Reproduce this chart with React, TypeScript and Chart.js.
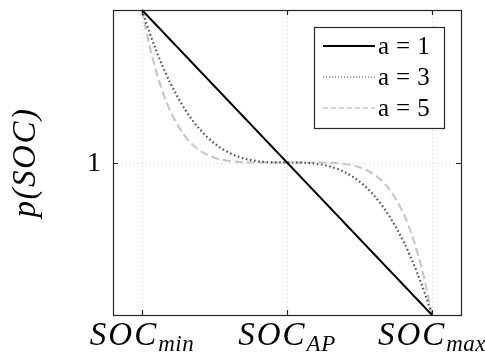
import React, { useEffect, useRef } from "react";
import { Chart, registerables } from "chart.js";

Chart.register(...registerables);

// State of charge, normalised: 0 = SOC_min, 1 = SOC_AP, 2 = SOC_max
const socPoints = [0, 0.05, 0.1, 0.15, 0.2, 0.3, 0.4, 0.5, 0.6, 0.7, 0.8, 0.9, 1, 1.1, 1.2, 1.3, 1.4, 1.5, 1.6, 1.7, 1.8, 1.85, 1.9, 1.95, 2];
const pA1 = [2, 1.95, 1.9, 1.85, 1.8, 1.7, 1.6, 1.5, 1.4, 1.3, 1.2, 1.1, 1, 0.9, 0.8, 0.7, 0.6, 0.5, 0.4, 0.3, 0.2, 0.15, 0.1, 0.05, 0];
const pA3 = [2, 1.857, 1.729, 1.614, 1.512, 1.343, 1.216, 1.125, 1.064, 1.027, 1.008, 1.001, 1, 0.999, 0.992, 0.973, 0.936, 0.875, 0.784, 0.657, 0.488, 0.386, 0.271, 0.143, 0];
const pA5 = [2, 1.774, 1.59, 1.444, 1.328, 1.168, 1.078, 1.031, 1.01, 1.002, 1.0, 1.0, 1, 1.0, 1.0, 0.998, 0.99, 0.969, 0.922, 0.832, 0.672, 0.556, 0.41, 0.226, 0];

const xTickValues = [0, 1, 2];
const xTickMain = ["SOC", "SOC", "SOC"];
const xTickSub = ["min", "AP", "max"];
const yTickValues = [1];
const yTickLabels = ["1"];
const seriesLabels = ["a=1", "a=3", "a=5"];

const SERIF = '"Liberation Serif", "Times New Roman", Times, serif';

const styles = [
  { color: "#000000", width: 2, dash: [] as number[], legendWidth: 2, legendDash: [] as number[] },
  { color: "#555555", width: 2.2, dash: [1.6, 2.6], legendWidth: 1.2, legendDash: [1.2, 1.8] },
  { color: "#c8c8c8", width: 2.2, dash: [8, 4], legendWidth: 1.6, legendDash: [5, 3] },
];

const toPoints = (ys: number[]) => socPoints.map((x, i) => ({ x, y: ys[i] }));

const setSpacing = (ctx: any, px: number) => {
  if ("letterSpacing" in ctx) ctx.letterSpacing = `${px}px`;
};

const decorPlugin = {
  id: "decor",
  beforeDatasetsDraw(chart: any) {
    const { ctx, chartArea: a, scales } = chart;
    ctx.save();
    ctx.strokeStyle = "#cfcfcf";
    ctx.lineWidth = 1;
    ctx.setLineDash([1, 3]);
    xTickValues.forEach((v) => {
      const px = Math.round(scales.x.getPixelForValue(v)) + 0.5;
      ctx.beginPath();
      ctx.moveTo(px, a.top);
      ctx.lineTo(px, a.bottom);
      ctx.stroke();
    });
    yTickValues.forEach((v) => {
      const py = Math.round(scales.y.getPixelForValue(v)) + 0.5;
      ctx.beginPath();
      ctx.moveTo(a.left, py);
      ctx.lineTo(a.right, py);
      ctx.stroke();
    });
    ctx.restore();
  },
  afterDatasetsDraw(chart: any) {
    const { ctx, chartArea: a, scales } = chart;
    ctx.save();
    // frame
    ctx.strokeStyle = "#262626";
    ctx.lineWidth = 1.2;
    ctx.setLineDash([]);
    ctx.strokeRect(a.left + 0.5, a.top + 0.5, a.right - a.left, a.bottom - a.top);

    // inward tick marks
    const tl = 5;
    xTickValues.forEach((v) => {
      const px = Math.round(scales.x.getPixelForValue(v)) + 0.5;
      ctx.beginPath();
      ctx.moveTo(px, a.bottom);
      ctx.lineTo(px, a.bottom - tl);
      ctx.moveTo(px, a.top);
      ctx.lineTo(px, a.top + tl);
      ctx.stroke();
    });
    yTickValues.forEach((v) => {
      const py = Math.round(scales.y.getPixelForValue(v)) + 0.5;
      ctx.beginPath();
      ctx.moveTo(a.left, py);
      ctx.lineTo(a.left + tl, py);
      ctx.moveTo(a.right, py);
      ctx.lineTo(a.right - tl, py);
      ctx.stroke();
    });

    // x tick labels with subscripts
    ctx.fillStyle = "#000";
    ctx.textAlign = "left";
    ctx.textBaseline = "alphabetic";
    const mainFont = `italic 33px ${SERIF}`;
    const subFont = `italic 23px ${SERIF}`;
    xTickValues.forEach((v, i) => {
      const cx = scales.x.getPixelForValue(v);
      ctx.font = mainFont;
      setSpacing(ctx, 2);
      const w1 = ctx.measureText(xTickMain[i]).width;
      ctx.font = subFont;
      setSpacing(ctx, 0.5);
      const w2 = ctx.measureText(xTickSub[i]).width;
      const start = cx - (w1 + w2) / 2;
      const base = a.bottom + 30;
      ctx.font = mainFont;
      setSpacing(ctx, 2);
      ctx.fillText(xTickMain[i], start, base);
      ctx.font = subFont;
      setSpacing(ctx, 0.5);
      ctx.fillText(xTickSub[i], start + w1, base + 6);
    });
    setSpacing(ctx, 0);

    // y tick labels
    ctx.font = `28px ${SERIF}`;
    ctx.textAlign = "right";
    ctx.textBaseline = "middle";
    yTickValues.forEach((v, i) => {
      const py = scales.y.getPixelForValue(v);
      ctx.fillText(yTickLabels[i], a.left - 12, py + 1);
    });

    // y axis title
    ctx.save();
    ctx.translate(35, (a.top + a.bottom) / 2);
    ctx.rotate(-Math.PI / 2);
    ctx.textAlign = "center";
    ctx.textBaseline = "alphabetic";
    ctx.font = `italic 33px ${SERIF}`;
    setSpacing(ctx, 1.5);
    ctx.fillText("p(SOC)", 0, 0);
    setSpacing(ctx, 0);
    ctx.restore();

    // legend
    const lx = a.right - 147;
    const ly = a.top + 17;
    const lw = 130;
    const lh = 101;
    ctx.fillStyle = "#ffffff";
    ctx.fillRect(lx, ly, lw, lh);
    ctx.strokeStyle = "#262626";
    ctx.lineWidth = 1.2;
    ctx.strokeRect(lx + 0.5, ly + 0.5, lw, lh);
    const rowY = [ly + 19, ly + 50, ly + 81];
    chart.data.datasets.forEach((ds: any, i: number) => {
      const st = styles[i];
      ctx.strokeStyle = st.color;
      ctx.lineWidth = st.legendWidth;
      ctx.setLineDash(st.legendDash);
      ctx.beginPath();
      ctx.moveTo(lx + 9, rowY[i]);
      ctx.lineTo(lx + 61, rowY[i]);
      ctx.stroke();
      ctx.setLineDash([]);
      ctx.fillStyle = "#000";
      ctx.font = `25px ${SERIF}`;
      setSpacing(ctx, 7);
      ctx.textAlign = "left";
      ctx.textBaseline = "alphabetic";
      ctx.fillText(ds.label, lx + 64, rowY[i] + 8);
      setSpacing(ctx, 0);
    });
    ctx.restore();
  },
};

export default function App() {
  const canvasRef = useRef<HTMLCanvasElement | null>(null);

  useEffect(() => {
    document.body.style.margin = "0";
    const canvas = canvasRef.current;
    if (!canvas) return;
    const chart = new Chart(canvas, {
      type: "line",
      data: {
        datasets: [pA1, pA3, pA5].map((ys, i) => ({
          label: seriesLabels[i],
          data: toPoints(ys),
          borderColor: styles[i].color,
          borderWidth: styles[i].width,
          borderDash: styles[i].dash,
          pointRadius: 0,
          fill: false,
          cubicInterpolationMode: "monotone" as const,
          clip: false as any,
        })),
      },
      options: {
        animation: false,
        responsive: true,
        maintainAspectRatio: false,
        layout: { padding: { left: 113, right: 24, top: 10, bottom: 39 } },
        plugins: { legend: { display: false }, tooltip: { enabled: false } },
        scales: {
          x: { type: "linear", min: -0.2, max: 2.2, display: false },
          y: { type: "linear", min: 0, max: 2, display: false },
        },
      },
      plugins: [decorPlugin],
    });
    let alive = true;
    Promise.all([
      document.fonts.load(`italic 33px "Liberation Serif"`),
      document.fonts.load(`25px "Liberation Serif"`),
    ]).then(() => {
      if (alive) chart.draw();
    });
    return () => {
      alive = false;
      chart.destroy();
    };
  }, []);

  return (
    <div style={{ position: "absolute", left: 0, top: 0, width: 485, height: 354, background: "#fff" }}>
      <canvas ref={canvasRef} />
    </div>
  );
}
